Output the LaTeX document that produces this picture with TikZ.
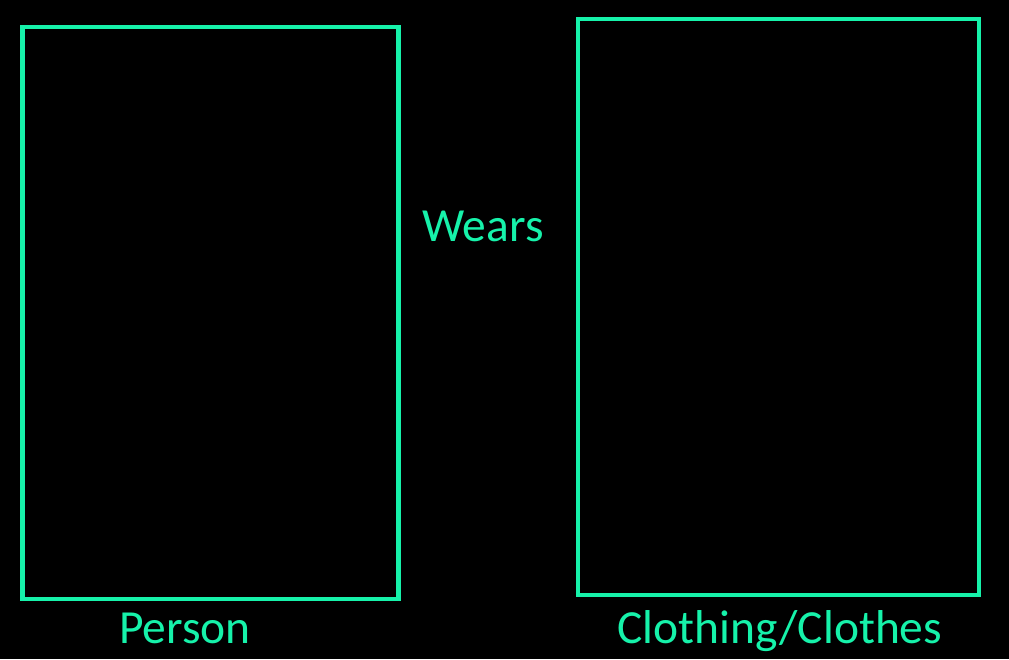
\documentclass[tikz,border=0pt]{standalone}
\usepackage{fontspec}
\setmainfont{Carlito}
\usetikzlibrary{positioning}
\definecolor{mint}{RGB}{22,242,170}
\tikzset{
	x = 1pt,
	y = -1pt,
	entity/.style={
		draw = mint,
		line width = 4.5pt
	},
	label text/.style={
		text = mint,
		font = \fontsize{47.5}{52}\selectfont,
		inner sep = 0pt,
		anchor = base
	}
}

\begin{document}
\begin{tikzpicture}
	\fill[black] (0,0) rectangle (1009,659);
	\useasboundingbox (0,0) rectangle (1009,659);
\node[entity, minimum width=376pt, minimum height=572pt, inner sep=0pt] (person) at (210.5,313) {};
\node[entity, minimum width=401pt, minimum height=576pt, inner sep=0pt] (clothing) at (778.5,307) {};

\node[label text] (wears) at (483,241) {Wears};
\node[label text] (personlabel) at (185,643) {Person};
\node[label text] (clothinglabel) at (780,643) {Clothing/Clothes};
	\end{tikzpicture}
\end{document}
